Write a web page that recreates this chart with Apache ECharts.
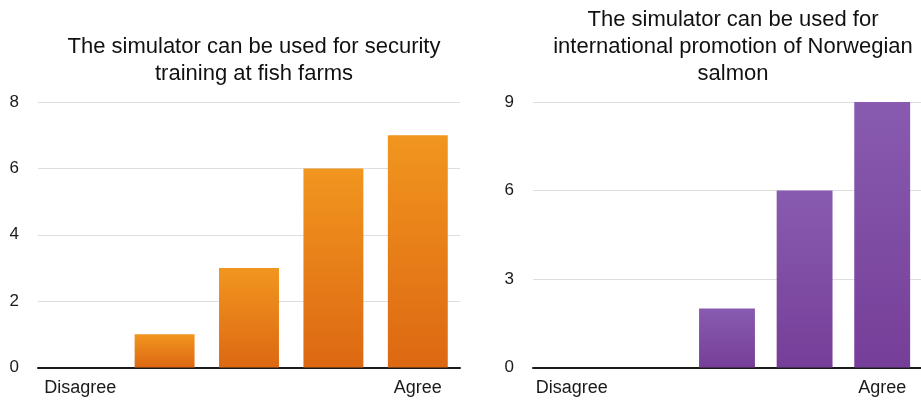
<!DOCTYPE html>
<html><head><meta charset="utf-8">
<script src="https://cdn.jsdelivr.net/npm/echarts@6/dist/echarts.min.js"></script>
<style>html,body{margin:0;padding:0;background:#fff}#c{width:921px;height:400px}</style>
</head><body><div id="c"></div>
<script>
const categories = ['Disagree', '', '', '', 'Agree'];
const trainingValues = [0, 1, 3, 6, 7];
const promotionValues = [0, 0, 2, 6, 9];
const trainingTitle = 'The simulator can be used for security\ntraining at fish farms';
const promotionTitle = 'The simulator can be used for\ninternational promotion of Norwegian\nsalmon';

const FONT = '"Liberation Sans", Arial, Helvetica, sans-serif';
const chart = echarts.init(document.getElementById('c'));
function grad(top, bottom) {
  return new echarts.graphic.LinearGradient(0, 0, 0, 1, [
    {offset: 0, color: top}, {offset: 1, color: bottom}
  ]);
}
const xAxisCommon = {
  type: 'category', data: categories,
  axisTick: {show: false},
  axisLine: {lineStyle: {color: '#1a1a1a', width: 2}},
  axisLabel: {interval: 0, color: '#1a1a1a', fontSize: 18, fontFamily: FONT, margin: 12}
};
const yAxisCommon = {
  type: 'value', min: 0,
  axisLine: {show: false}, axisTick: {show: false},
  splitLine: {lineStyle: {color: '#dedede', width: 1}},
  axisLabel: {color: '#1a1a1a', fontSize: 17, fontFamily: FONT, margin: 19, padding: [4, 0, 0, 0]}
};
chart.setOption({
  animation: false,
  title: [
    {text: trainingTitle, left: 249, top: 28, textAlign: 'center',
     textStyle: {fontSize: 22, fontWeight: 'normal', color: '#111', fontFamily: FONT, lineHeight: 27}},
    {text: promotionTitle, left: 728, top: 1, textAlign: 'center',
     textStyle: {fontSize: 22, fontWeight: 'normal', color: '#111', fontFamily: FONT, lineHeight: 27}}
  ],
  grid: [
    {left: 38, top: 102, width: 422, height: 265.5},
    {left: 533, top: 102, width: 390, height: 265.5}
  ],
  xAxis: [
    Object.assign({gridIndex: 0}, xAxisCommon),
    Object.assign({gridIndex: 1}, xAxisCommon)
  ],
  yAxis: [
    Object.assign({gridIndex: 0, max: 8, interval: 2}, yAxisCommon),
    Object.assign({gridIndex: 1, max: 9, interval: 3}, yAxisCommon)
  ],
  series: [
    {type: 'bar', xAxisIndex: 0, yAxisIndex: 0, data: trainingValues, barCategoryGap: '29%',
     itemStyle: {color: grad('#f1961f', '#dd6812')}},
    {type: 'bar', xAxisIndex: 1, yAxisIndex: 1, data: promotionValues, barCategoryGap: '28%',
     itemStyle: {color: grad('#885bb0', '#763e98')}}
  ]
});
</script></body></html>
